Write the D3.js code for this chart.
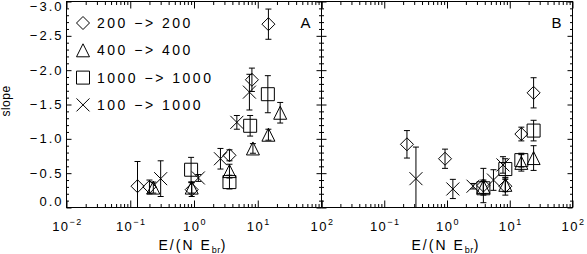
<!DOCTYPE html>
<html>
<head>
<meta charset="utf-8">
<script src="https://cdn.jsdelivr.net/npm/d3@7"></script>
<style>
body { margin: 0; background: #fff; }
svg { display: block; font-family: "Liberation Sans", Arial, sans-serif; }
</style>
</head>
<body>
<script>
// slope vs E/(N Ebr), panels A and B

var legendLabels = ["200 \u2212> 200", "400 \u2212> 400", "1000 \u2212> 1000", "100 \u2212> 1000"];
var symbolNames = ["diamond", "triangle", "square", "cross"];
var panelNames = ["A", "B"];
var yTicks = [0, -0.5, -1, -1.5, -2, -2.5, -3];
var yTickLabels = ["0.0", "\u22120.5", "\u22121.0", "\u22121.5", "\u22122.0", "\u22122.5", "\u22123.0"];
var xTicks = [0.01, 0.1, 1, 10, 100];
var xTickExps = ["\u22122", "\u22121", "0", "1", "2"];

// [E/(N Ebr), slope, error]
var aDiamond = [[0.13, -0.31, 0.36], [0.2, -0.30, 0.1], [0.92, -0.26, 0.1], [3.6, -0.76, 0.08], [8.1, -1.86, 0.17], [14.7, -2.67, 0.22]];
var aTriangle = [[0.23, -0.29, 0.08], [0.92, -0.29, 0.08], [3.6, -0.53, 0.1], [8.4, -0.86, 0.07], [14.7, -1.06, 0.08], [22.5, -1.38, 0.15]];
var aSquare = [[0.9, -0.55, 0.18], [3.6, -0.37, 0.1], [7.6, -1.19, 0.15], [14.4, -1.65, 0.27]];
var aCross = [[0.3, -0.42, 0.26], [1.17, -0.43, 0.05], [2.6, -0.71, 0.15], [4.7, -1.24, 0.1], [7.4, -1.68, 0.26]];

var bDiamond = [[0.23, -0.92, 0.2], [0.93, -0.71, 0.14], [3.8, -0.32, 0.25], [8.5, -0.31, 0.13], [15.3, -1.07, 0.1], [24, -1.67, 0.22]];
var bTriangle = [[3.8, -0.30, 0.1], [8.5, -0.33, 0.1], [15.3, -0.65, 0.12], [24, -0.72, 0.18]];
var bSquare = [[3.8, -0.28, 0.1], [8.5, -0.56, 0.15], [15.3, -0.69, 0.1], [24, -1.12, 0.15]];
var bCross = [[0.32, -0.42, 0.46], [1.24, -0.27, 0.14], [2.6, -0.31, 0.04], [5.5, -0.40, 0.15], [7.8, -0.62, 0.12]];

var svg = d3.select("body").append("svg").attr("width", 587).attr("height", 254);

var top_y = 1.5, bottom_y = 207.5;
var y = d3.scaleLinear().domain([0, -3]).range([bottom_y, top_y]);
var panels = [
    { name: "A", x: d3.scaleLog().domain([0.01, 100]).range([66.5, 321.5]), data: [aDiamond, aTriangle, aSquare, aCross] },
    { name: "B", x: d3.scaleLog().domain([0.01, 100]).range([321.5, 572.5]), data: [bDiamond, bTriangle, bSquare, bCross] }
];

var xMinor = [];
[0.01, 0.1, 1, 10].forEach(function (d) {
    for (var k = 2; k <= 9; k++) xMinor.push(d * k);
});
var yMinor = d3.range(0, 31).filter(function (i) { return i % 5 != 0; }).map(function (i) { return -i / 10; });

var s = 6.5;
function symbolPath(name) {
    if (name == "diamond") return "M0," + (-s) + "L" + s + ",0L0," + s + "L" + (-s) + ",0Z";
    if (name == "triangle") return "M0," + (-s) + "L" + s + "," + s + "L" + (-s) + "," + s + "Z";
    if (name == "square") return "M" + (-s) + "," + (-s) + "H" + s + "V" + s + "H" + (-s) + "Z";
    return "M" + (-s) + "," + (-s) + "L" + s + "," + s + "M" + s + "," + (-s) + "L" + (-s) + "," + s;
}

function drawTicks(g, axis) {
    g.call(axis);
    g.select(".domain").remove();
    g.selectAll("line").attr("stroke", "#000");
}

panels.forEach(function (p, pi) {
    var x = p.x;
    var x0 = x.range()[0], x1 = x.range()[1];
    var g = svg.append("g");

    // ticks, all pointing inward
    drawTicks(g.append("g").attr("transform", "translate(0," + bottom_y + ")"),
        d3.axisBottom(x).tickValues(xTicks).tickSizeInner(-7).tickSizeOuter(0).tickFormat(""));
    drawTicks(g.append("g").attr("transform", "translate(0," + bottom_y + ")"),
        d3.axisBottom(x).tickValues(xMinor).tickSizeInner(-3.5).tickSizeOuter(0).tickFormat(""));
    drawTicks(g.append("g").attr("transform", "translate(0," + top_y + ")"),
        d3.axisTop(x).tickValues(xTicks).tickSizeInner(-7).tickSizeOuter(0).tickFormat(""));
    drawTicks(g.append("g").attr("transform", "translate(0," + top_y + ")"),
        d3.axisTop(x).tickValues(xMinor).tickSizeInner(-3.5).tickSizeOuter(0).tickFormat(""));
    drawTicks(g.append("g").attr("transform", "translate(" + x0 + ",0)"),
        d3.axisLeft(y).tickValues(yTicks).tickSizeInner(-5).tickSizeOuter(0).tickFormat(""));
    drawTicks(g.append("g").attr("transform", "translate(" + x0 + ",0)"),
        d3.axisLeft(y).tickValues(yMinor).tickSizeInner(-2.5).tickSizeOuter(0).tickFormat(""));
    drawTicks(g.append("g").attr("transform", "translate(" + x1 + ",0)"),
        d3.axisRight(y).tickValues(yTicks).tickSizeInner(-5).tickSizeOuter(0).tickFormat(""));
    drawTicks(g.append("g").attr("transform", "translate(" + x1 + ",0)"),
        d3.axisRight(y).tickValues(yMinor).tickSizeInner(-2.5).tickSizeOuter(0).tickFormat(""));

    g.append("rect")
        .attr("x", x0).attr("y", top_y)
        .attr("width", x1 - x0).attr("height", bottom_y - top_y)
        .attr("fill", "none").attr("stroke", "#000");

    // x tick labels
    for (var i = 0; i < xTicks.length; i++) {
        if (pi == 1 && i == 0) continue;
        var t = g.append("text")
            .attr("x", x(xTicks[i]) + 1)
            .attr("y", 231)
            .attr("text-anchor", "middle")
            .style("font-size", "13px")
            .style("letter-spacing", "1.5px")
            .text("10");
        t.append("tspan").attr("dy", -6).style("font-size", "9px").text(xTickExps[i]);
    }

    // x title
    var xt = g.append("text")
        .attr("x", (x0 + x1) / 2 - 1)
        .attr("y", 250)
        .attr("text-anchor", "middle")
        .style("font-size", "14px")
        .style("letter-spacing", "2px")
        .text("E/(N E");
    xt.append("tspan").attr("dy", 3).style("font-size", "9px").style("letter-spacing", "0.5px").text("br");
    xt.append("tspan").attr("dy", -3).text(")");

    g.append("text")
        .attr("x", x1 - 16)
        .attr("y", 28)
        .attr("text-anchor", "middle")
        .style("font-size", "15px")
        .text(p.name);

    // data
    var clipId = "clip" + pi;
    svg.append("clipPath").attr("id", clipId).append("rect")
        .attr("x", x0).attr("y", top_y).attr("width", x1 - x0).attr("height", bottom_y - top_y);
    var pg = g.append("g").attr("clip-path", "url(#" + clipId + ")");

    p.data.forEach(function (ser, si) {
        ser.forEach(function (d) {
            var cx = x(d[0]), cy = y(d[1]);
            var yt = y(d[1] - d[2]), yb = y(d[1] + d[2]);
            pg.append("line").attr("x1", cx).attr("x2", cx).attr("y1", yt).attr("y2", yb).attr("stroke", "#000");
            pg.append("line").attr("x1", cx - 3).attr("x2", cx + 3).attr("y1", yt).attr("y2", yt).attr("stroke", "#000");
            pg.append("line").attr("x1", cx - 3).attr("x2", cx + 3).attr("y1", yb).attr("y2", yb).attr("stroke", "#000");
            pg.append("path")
                .attr("d", symbolPath(symbolNames[si]))
                .attr("transform", "translate(" + cx + "," + cy + ")")
                .attr("fill", "none")
                .attr("stroke", "#000");
        });
    });
});

// y tick labels on panel A
for (var i = 0; i < yTicks.length; i++) {
    var ty = Math.min(Math.max(y(yTicks[i]), 6.5), 201);
    svg.append("text")
        .attr("x", 63.5)
        .attr("y", ty + 4.5)
        .attr("text-anchor", "end")
        .style("font-size", "13px")
        .style("letter-spacing", "2px")
        .text(yTickLabels[i]);
}

svg.append("text")
    .attr("transform", "translate(10,101) rotate(-90)")
    .attr("text-anchor", "middle")
    .style("font-size", "12px")
    .style("letter-spacing", "0.5px")
    .text("slope");

// legend
for (var i = 0; i < legendLabels.length; i++) {
    var ly = 23 + i * 27.3;
    svg.append("path")
        .attr("d", symbolPath(symbolNames[i]))
        .attr("transform", "translate(83," + ly + ")")
        .attr("fill", "none")
        .attr("stroke", "#000");
    svg.append("text")
        .attr("x", 97)
        .attr("y", ly + 5)
        .style("font-size", "14px")
        .style("letter-spacing", "2.5px")
        .text(legendLabels[i]);
}
</script>
</body>
</html>
